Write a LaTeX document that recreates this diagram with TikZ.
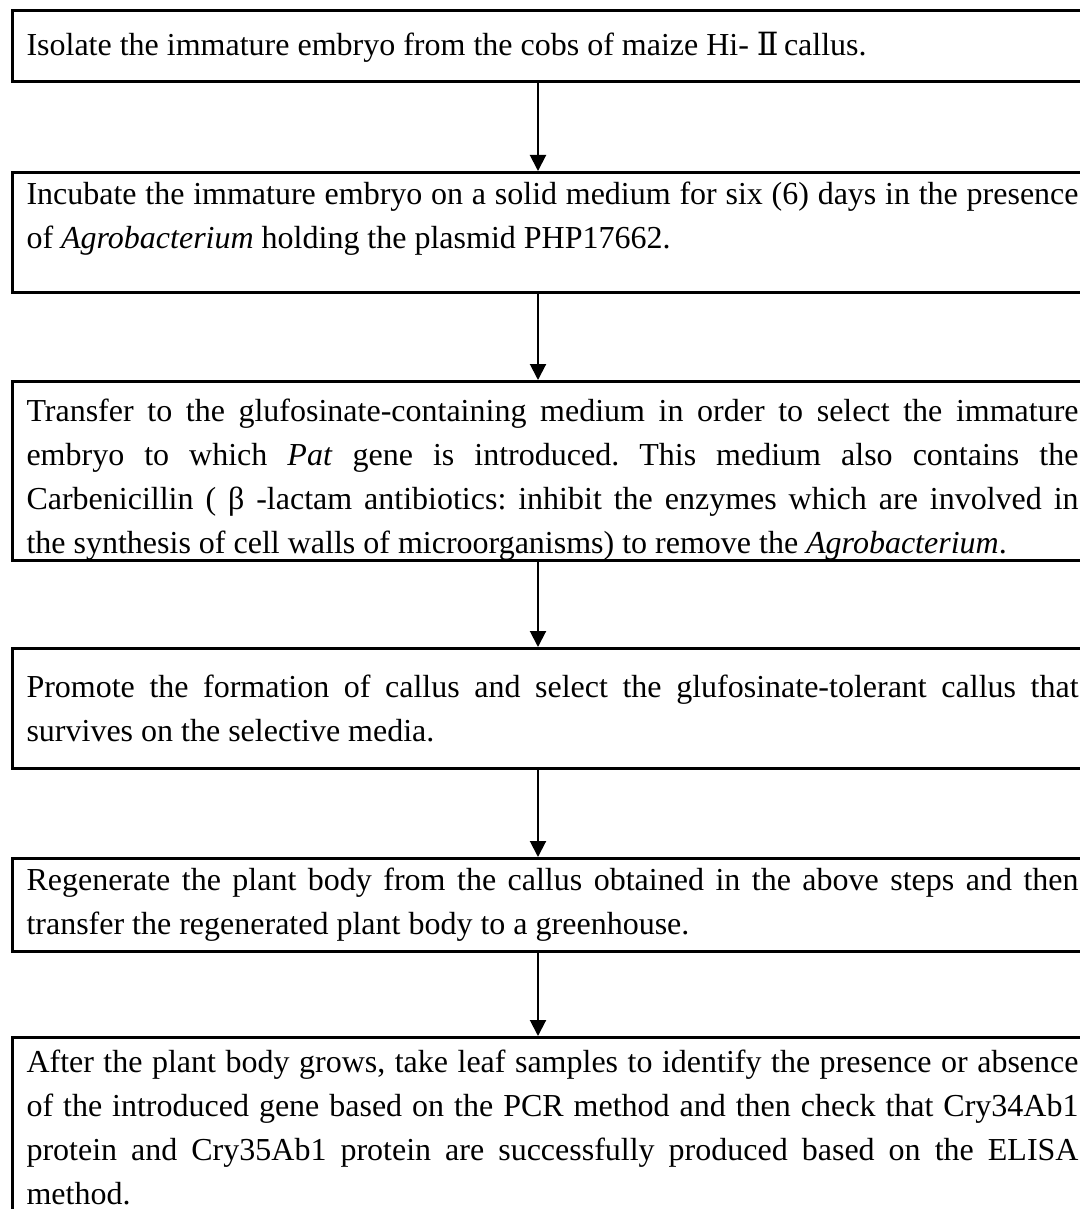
\documentclass[tikz,border=0pt]{standalone}
\usepackage{fontspec}
\setmainfont{Liberation Serif}
\newfontfamily\numfont{DejaVu Serif}
\usetikzlibrary{arrows.meta}
\tolerance=9999
\hyphenpenalty=10000

\begin{document}
\begin{tikzpicture}[x=0.5pt,y=0.5pt,
  stepbox/.style={draw,line width=1.5pt,anchor=north west,text width=526pt,align=justify,
    inner xsep=7pt,inner ysep=0pt,font=\fontsize{16pt}{22pt}\selectfont\frenchspacing},
  flow/.style={line width=1pt,-{Triangle[width=8pt,length=8pt]}}]
\useasboundingbox (0,0) rectangle (1080,-1209);
\coordinate (mid) at (538,0);

\node[stepbox,minimum height=35.5pt] (isolate) at (11,-9.5) {\strut Isolate the immature embryo from the cobs of maize Hi- {\numfont Ⅱ}\,callus.};
\node[stepbox,minimum height=59pt] (incubate) at (11,-171) {\rule{0pt}{16pt}Incubate the immature embryo on a solid medium for six (6) days in the presence\linebreak of \textit{Agrobacterium} holding the plasmid PHP17662.\par\mbox{}};
\node[stepbox,minimum height=89pt] (transfer) at (11,-380) {\rule{0pt}{20pt}Transfer to the glufosinate-containing medium in order to select the immature\linebreak embryo to which \textit{Pat} gene is introduced. This medium also contains the\linebreak Carbenicillin ( β -lactam antibiotics: inhibit the enzymes which are involved in\linebreak the synthesis of cell walls of microorganisms) to remove the \textit{Agrobacterium}.};
\node[stepbox,minimum height=60pt] (promote) at (11,-647) {Promote the formation of callus and select the glufosinate-tolerant callus that\linebreak survives on the selective media.};
\node[stepbox,minimum height=46.5pt] (regenerate) at (11,-857) {Regenerate the plant body from the callus obtained in the above steps and then\linebreak transfer the regenerated plant body to a greenhouse.};
\node[stepbox,minimum height=90pt] (check) at (11,-1036) {After the plant body grows, take leaf samples to identify the presence or absence\linebreak of the introduced gene based on the PCR method and then check that Cry34Ab1\linebreak protein and Cry35Ab1 protein are successfully produced based on the ELISA\linebreak method.};

\draw[flow] (isolate.south -| mid) -- (incubate.north -| mid);
\draw[flow] (incubate.south -| mid) -- (transfer.north -| mid);
\draw[flow] (transfer.south -| mid) -- (promote.north -| mid);
\draw[flow] (promote.south -| mid) -- (regenerate.north -| mid);
\draw[flow] (regenerate.south -| mid) -- (check.north -| mid);
\end{tikzpicture}
\end{document}
